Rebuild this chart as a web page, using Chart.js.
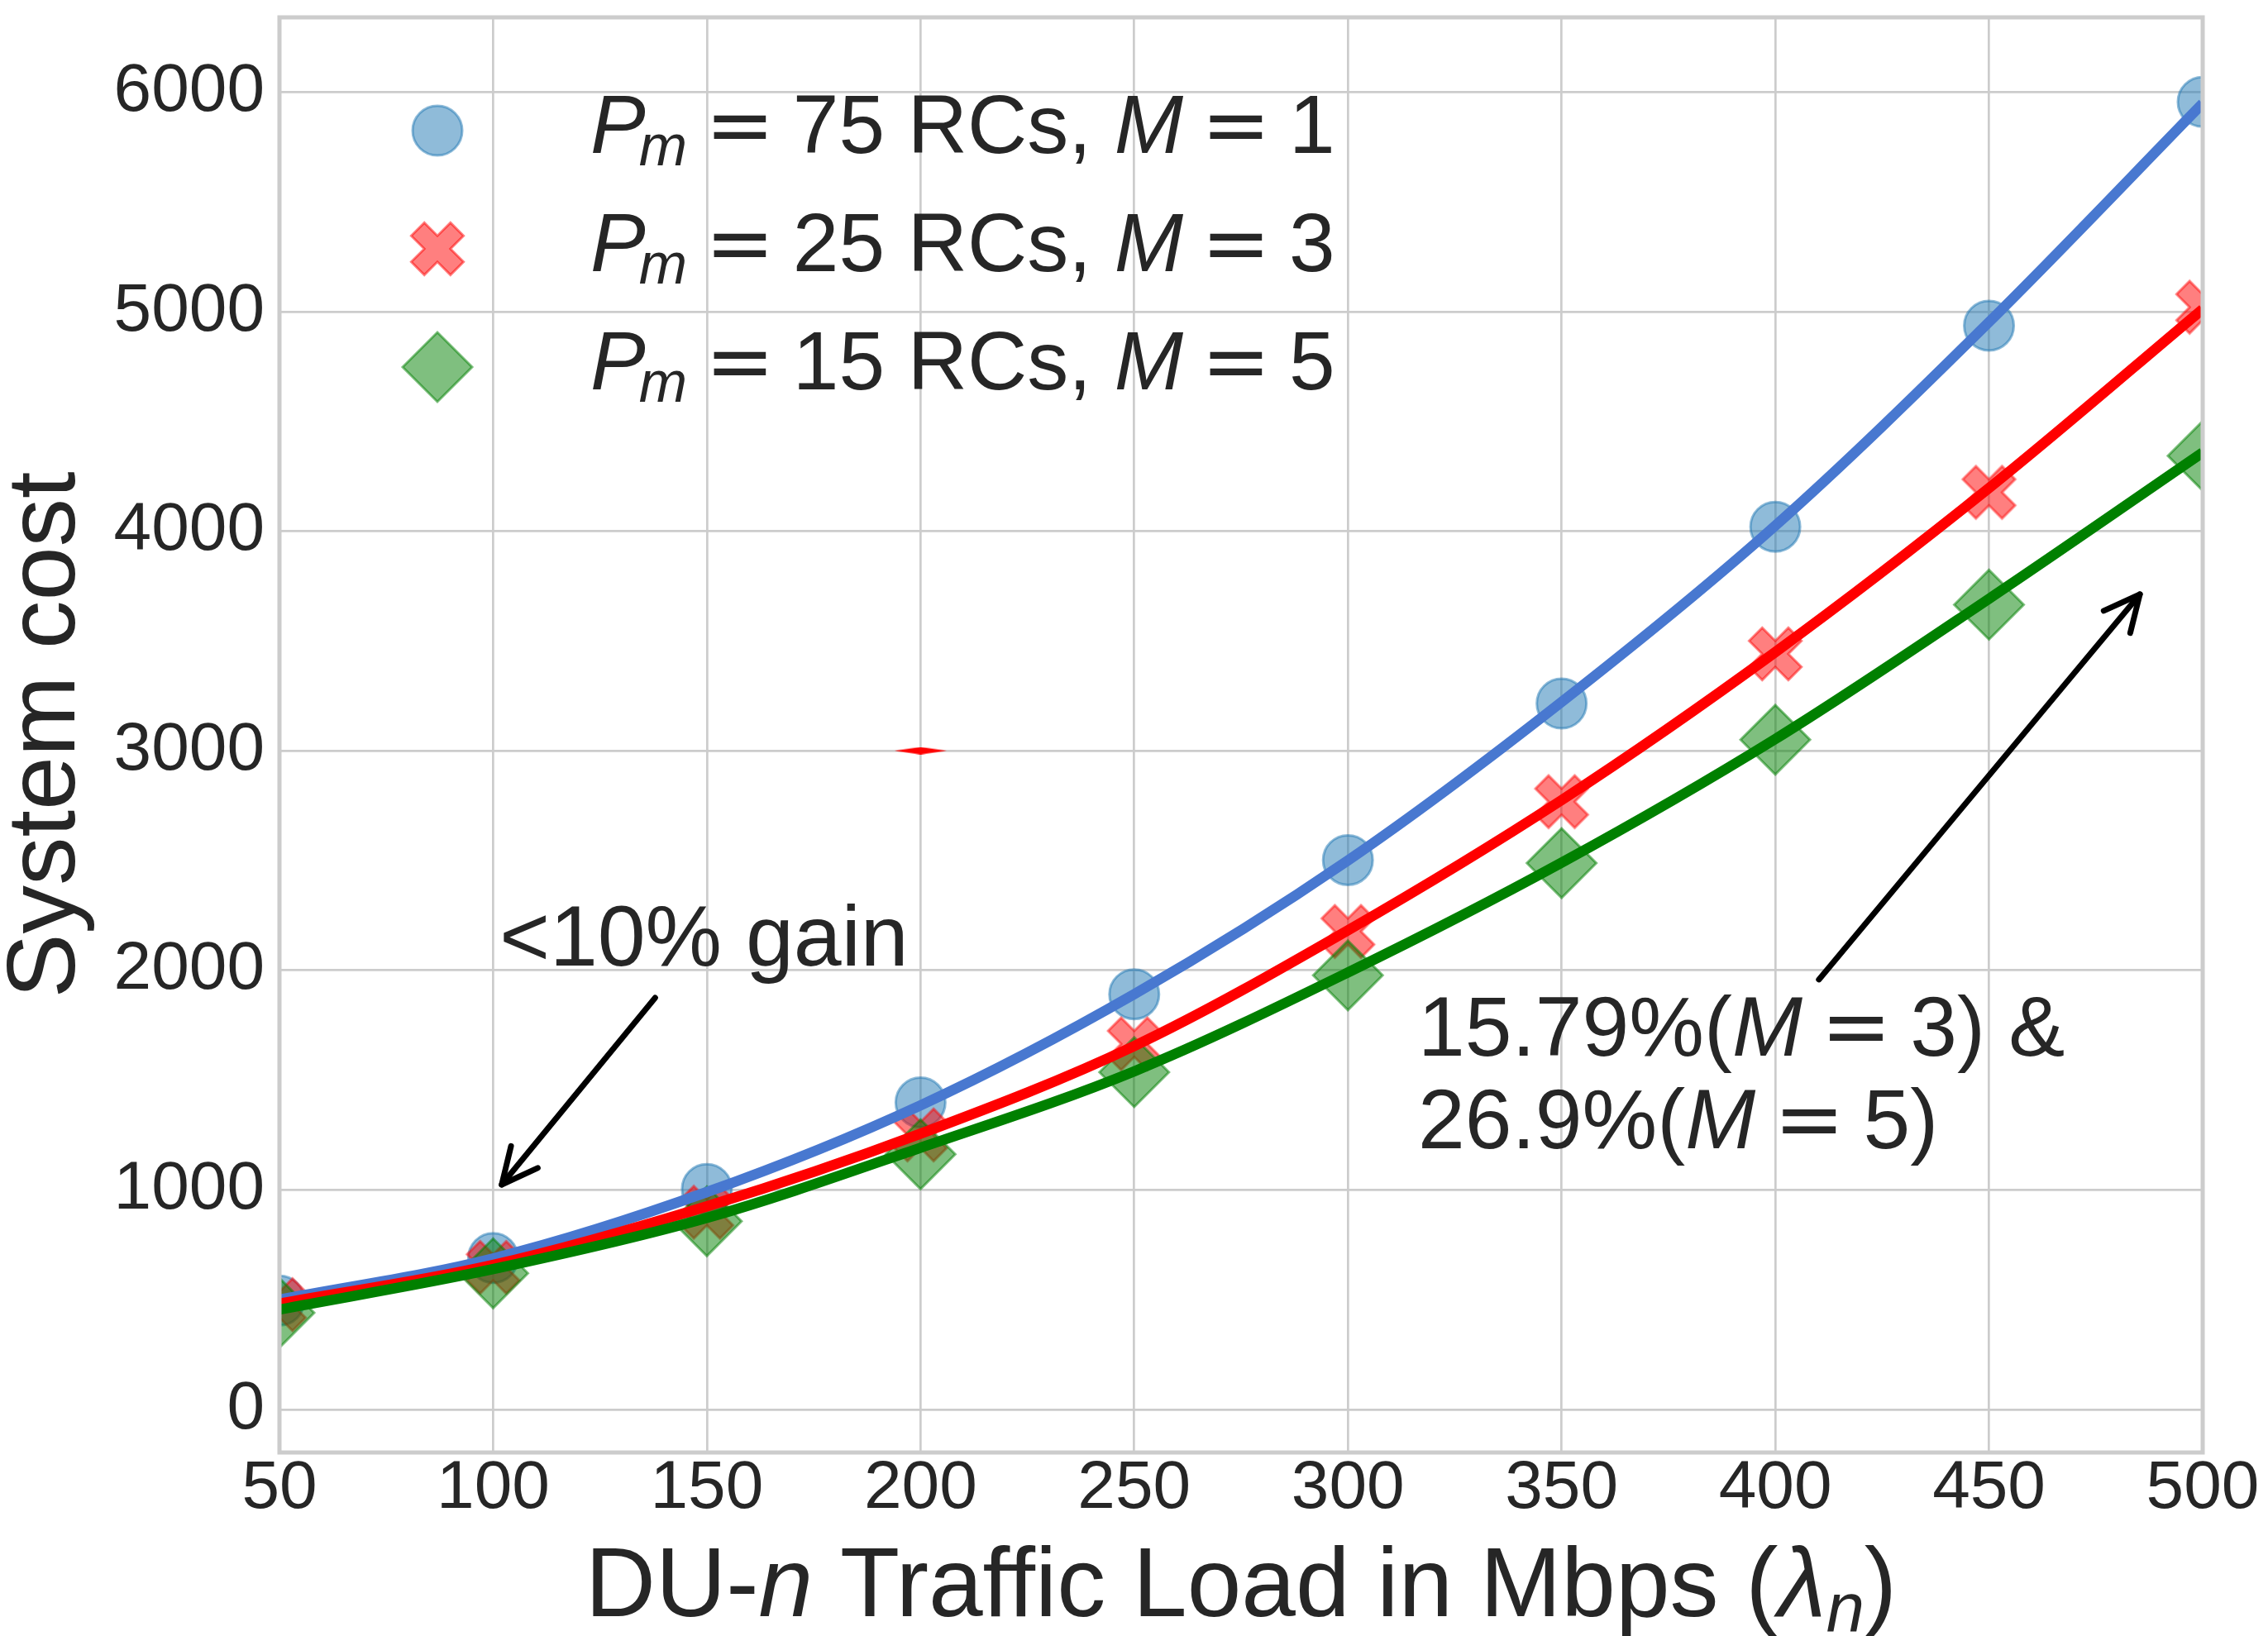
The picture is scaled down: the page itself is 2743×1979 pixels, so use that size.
<!DOCTYPE html>
<html>
<head>
<meta charset="utf-8">
<script src="https://cdn.jsdelivr.net/npm/chart.js@4.4.1/dist/chart.umd.min.js"></script>
<style>
html,body{margin:0;padding:0;background:#ffffff;}
#wrap{width:2743px;height:1979px;position:relative;}
canvas{display:block;}
</style>
</head>
<body>
<div id="wrap"><canvas id="c" width="2743" height="1979" style="width:2743px;height:1979px"></canvas></div>
<script>
// ---------------- data ----------------
const loads = [50, 100, 150, 200, 250, 300, 350, 400, 450, 500];
const costM1Points = [496, 690, 1004, 1398, 1891, 2502, 3215, 4020, 4936, 5955];
const costM3Points = [477, 647, 898, 1250, 1665, 2177, 2768, 3441, 4177, 5020];
const costM5Points = [440, 620, 857, 1162, 1536, 1977, 2488, 3050, 3665, 4343];
const costM1Fit = [500, 688, 990, 1385, 1891, 2500, 3222, 4025, 4952, 5948];
const costM3Fit = [482, 658, 925, 1256, 1655, 2182, 2775, 3449, 4196, 5011];
const costM5Fit = [455, 639, 872, 1192, 1540, 1990, 2490, 3053, 3692, 4358];
const strayX = [200];
const strayY = [3000];
const xTicks = [50, 100, 150, 200, 250, 300, 350, 400, 450, 500];
const yTicks = [0, 1000, 2000, 3000, 4000, 5000, 6000];
const legendRC = [75, 25, 15];
const legendM = [1, 3, 5];
const gainText = '<10% gain';
const gainLine1 = ['15.79%(', 'M', '3) &'];
const gainLine2 = ['26.9%(', 'M', '5)'];

// ---------------- styles ----------------
const FAM = '"Liberation Sans", Arial, Helvetica, sans-serif';
const TXT = '#262626';
const BLUE_M = 'rgba(31,119,180,0.5)';
const RED_M = 'rgba(255,0,0,0.5)';
const GREEN_M = 'rgba(0,128,0,0.5)';

function makeXMarker(size, fill, stroke, lw) {
  const ext = Math.ceil(size * 0.943 + 2 * (lw + 2));
  const c = document.createElement('canvas');
  c.width = ext; c.height = ext;
  const g = c.getContext('2d');
  g.translate(ext / 2, ext / 2);
  g.rotate(Math.PI / 4);
  const a = size / 2, b = size / 6;
  g.beginPath();
  g.moveTo(-b, -a); g.lineTo(b, -a); g.lineTo(b, -b); g.lineTo(a, -b);
  g.lineTo(a, b); g.lineTo(b, b); g.lineTo(b, a); g.lineTo(-b, a);
  g.lineTo(-b, b); g.lineTo(-a, b); g.lineTo(-a, -b); g.lineTo(-b, -b);
  g.closePath();
  g.fillStyle = fill; g.fill();
  g.lineWidth = lw; g.strokeStyle = stroke; g.lineJoin = 'miter'; g.stroke();
  return c;
}
function makeSliver(w, h, color) {
  const c = document.createElement('canvas');
  c.width = w; c.height = h;
  const g = c.getContext('2d');
  g.beginPath();
  g.moveTo(0, h / 2); g.lineTo(w / 2, 0); g.lineTo(w, h / 2); g.lineTo(w / 2, h);
  g.closePath();
  g.fillStyle = color; g.fill();
  return c;
}
const xMarker = makeXMarker(67, RED_M, RED_M, 3);
const sliver = makeSliver(63, 9, '#ff0000');

const pts = (xs, ys) => xs.map((x, i) => ({x: x, y: ys[i]}));

// ---------------- text helpers ----------------
function fR(s) { return s + 'px ' + FAM; }
function fI(s) { return 'italic ' + s + 'px ' + FAM; }
function eqRun(s) { return {t: '=', font: s + 'px "DejaVu Sans", ' + FAM, pre: 0.22 * s, post: 0.22 * s}; }
function measureRuns(ctx, runs) {
  let w = 0;
  for (const r of runs) { ctx.font = r.font; w += (r.pre || 0) + ctx.measureText(r.t).width + (r.post || 0); }
  return w;
}
function drawRuns(ctx, x, y, runs) {
  let cx = x;
  for (const r of runs) {
    ctx.font = r.font;
    cx += (r.pre || 0);
    ctx.fillText(r.t, cx, y + (r.dy || 0));
    cx += ctx.measureText(r.t).width + (r.post || 0);
  }
  return cx;
}
function legendRuns(i, s) {
  return [
    {t: 'P', font: fI(s)},
    {t: 'm', font: fI(Math.round(0.7 * s)), dy: 0.15 * s, pre: -0.08 * s},
    eqRun(s),
    {t: legendRC[i] + ' RCs, ', font: fR(s)},
    {t: 'M', font: fI(s)},
    eqRun(s),
    {t: String(legendM[i]), font: fR(s)}
  ];
}
function gainRuns(parts, s) {
  return [
    {t: parts[0], font: fR(s)},
    {t: parts[1], font: fI(s)},
    eqRun(s),
    {t: parts[2], font: fR(s)}
  ];
}
function xTitleRuns(s) {
  return [
    {t: 'DU-', font: fR(s)},
    {t: 'n', font: fI(s)},
    {t: ' Traffic Load in Mbps (', font: fR(s)},
    {t: 'λ', font: fI(s)},
    {t: 'n', font: fI(Math.round(0.7 * s)), dy: 0.15 * s},
    {t: ')', font: fR(s)}
  ];
}
function arrow(ctx, x0, y0, x1, y1, headLen, headAng, lw) {
  ctx.strokeStyle = '#000000'; ctx.lineWidth = lw; ctx.lineCap = 'round'; ctx.lineJoin = 'round';
  ctx.beginPath(); ctx.moveTo(x0, y0); ctx.lineTo(x1, y1); ctx.stroke();
  const ang = Math.atan2(y1 - y0, x1 - x0);
  ctx.beginPath();
  ctx.moveTo(x1 - headLen * Math.cos(ang - headAng), y1 - headLen * Math.sin(ang - headAng));
  ctx.lineTo(x1, y1);
  ctx.lineTo(x1 - headLen * Math.cos(ang + headAng), y1 - headLen * Math.sin(ang + headAng));
  ctx.stroke();
}

// annotation anchors in data coordinates
const annot = {
  gainText: {x: 101.5, y: 2022},
  gainArrow: {x0: 137.9, y0: 1875, x1: 102, y1: 1024},
  bigText1: {x: 316.4, y: 1611},
  bigText2: {x: 316.4, y: 1190},
  bigArrow: {x0: 410.2, y0: 1958, x1: 485.3, y1: 3712}
};

const decor = {
  id: 'decor',
  afterDraw(chart) {
    const ctx = chart.ctx, a = chart.chartArea, xs = chart.scales.x, ys = chart.scales.y;
    ctx.save();
    // frame
    ctx.strokeStyle = '#cccccc'; ctx.lineWidth = 5;
    ctx.strokeRect(a.left, a.top, a.right - a.left, a.bottom - a.top);

    ctx.fillStyle = TXT; ctx.textBaseline = 'alphabetic'; ctx.textAlign = 'left';
    // x title
    const xt = xTitleRuns(118);
    const w = measureRuns(ctx, xt);
    drawRuns(ctx, (a.left + a.right) / 2 - w / 2, a.bottom + 198, xt);
    // y title
    ctx.save();
    ctx.translate(a.left - 248, (a.top + a.bottom) / 2);
    ctx.rotate(-Math.PI / 2);
    ctx.font = fR(117); ctx.textAlign = 'center';
    ctx.fillText('System cost', 0, 0);
    ctx.restore();

    // legend
    const lx = a.left + 191, tx = a.left + 376;
    for (let i = 0; i < 3; i++) {
      const ly = a.top + 137 + i * 143;
      if (i === 0) {
        ctx.beginPath(); ctx.arc(lx, ly, 30, 0, Math.PI * 2);
        ctx.fillStyle = BLUE_M; ctx.fill();
        ctx.lineWidth = 3; ctx.strokeStyle = BLUE_M; ctx.stroke();
      } else if (i === 1) {
        ctx.drawImage(xMarker, lx - xMarker.width / 2, ly - xMarker.height / 2);
      } else {
        ctx.beginPath();
        ctx.moveTo(lx - 42, ly); ctx.lineTo(lx, ly - 42); ctx.lineTo(lx + 42, ly); ctx.lineTo(lx, ly + 42);
        ctx.closePath();
        ctx.fillStyle = GREEN_M; ctx.fill();
        ctx.lineWidth = 3; ctx.strokeStyle = GREEN_M; ctx.stroke();
      }
      ctx.fillStyle = TXT;
      drawRuns(ctx, tx, ly + 27, legendRuns(i, 100));
    }

    // annotations
    ctx.fillStyle = TXT;
    ctx.font = fR(104);
    ctx.fillText(gainText, xs.getPixelForValue(annot.gainText.x), ys.getPixelForValue(annot.gainText.y));
    drawRuns(ctx, xs.getPixelForValue(annot.bigText1.x), ys.getPixelForValue(annot.bigText1.y), gainRuns(gainLine1, 102));
    drawRuns(ctx, xs.getPixelForValue(annot.bigText2.x), ys.getPixelForValue(annot.bigText2.y), gainRuns(gainLine2, 102));
    const g = annot.gainArrow, b = annot.bigArrow;
    arrow(ctx, xs.getPixelForValue(g.x0), ys.getPixelForValue(g.y0), xs.getPixelForValue(g.x1), ys.getPixelForValue(g.y1), 48, 0.45, 7);
    arrow(ctx, xs.getPixelForValue(b.x0), ys.getPixelForValue(b.y0), xs.getPixelForValue(b.x1), ys.getPixelForValue(b.y1), 48, 0.45, 7);
    ctx.restore();
  }
};

const tickFont = {family: FAM, size: 82, lineHeight: 1};

new Chart(document.getElementById('c').getContext('2d'), {
  type: 'line',
  data: {
    datasets: [
      {label: 'M1 points', data: pts(loads, costM1Points), showLine: false, pointStyle: 'circle', pointRadius: 30,
       pointBackgroundColor: BLUE_M, pointBorderColor: BLUE_M, pointBorderWidth: 3, order: 6},
      {label: 'M3 points', data: pts(loads, costM3Points), showLine: false, pointStyle: xMarker, pointRadius: 32, order: 5},
      {label: 'M5 points', data: pts(loads, costM5Points), showLine: false, pointStyle: 'rectRot', pointRadius: 42,
       pointBackgroundColor: GREEN_M, pointBorderColor: GREEN_M, pointBorderWidth: 3, order: 4},
      {label: 'M1 fit', data: pts(loads, costM1Fit), borderColor: '#4878d0', borderWidth: 12.5, pointRadius: 0,
       cubicInterpolationMode: 'monotone', fill: false, order: 3},
      {label: 'M3 fit', data: pts(loads, costM3Fit), borderColor: '#ff0000', borderWidth: 12.5, pointRadius: 0,
       cubicInterpolationMode: 'monotone', fill: false, order: 2},
      {label: 'M5 fit', data: pts(loads, costM5Fit), borderColor: '#008000', borderWidth: 12.5, pointRadius: 0,
       cubicInterpolationMode: 'monotone', fill: false, order: 1},
      {label: 'stray', data: pts(strayX, strayY), showLine: false, pointStyle: sliver, pointRadius: 5, order: 7}
    ]
  },
  options: {
    responsive: false,
    devicePixelRatio: 1,
    animation: false,
    events: [],
    layout: {autoPadding: false, padding: {top: 21, right: 79, left: 0, bottom: 0}},
    plugins: {legend: {display: false}, tooltip: {enabled: false}, title: {display: false}},
    scales: {
      x: {
        type: 'linear', min: 50, max: 500,
        afterBuildTicks: s => { s.ticks = xTicks.map(v => ({value: v})); },
        afterFit: s => { s.height = 222; s.paddingLeft = 0; s.paddingRight = 0; },
        ticks: {font: tickFont, color: TXT, padding: 3, maxRotation: 0, minRotation: 0, autoSkip: false,
                callback: v => String(v)},
        grid: {color: '#cccccc', lineWidth: 2.7, drawTicks: false},
        border: {display: false}
      },
      y: {
        type: 'linear', min: -196, max: 6340,
        afterBuildTicks: s => { s.ticks = yTicks.map(v => ({value: v})); },
        afterFit: s => { s.width = 338; s.paddingTop = 0; s.paddingBottom = 0; },
        ticks: {font: tickFont, color: TXT, padding: 18, autoSkip: false, callback: v => String(v)},
        grid: {color: '#cccccc', lineWidth: 2.7, drawTicks: false},
        border: {display: false}
      }
    }
  },
  plugins: [decor]
});
</script>
</body>
</html>
